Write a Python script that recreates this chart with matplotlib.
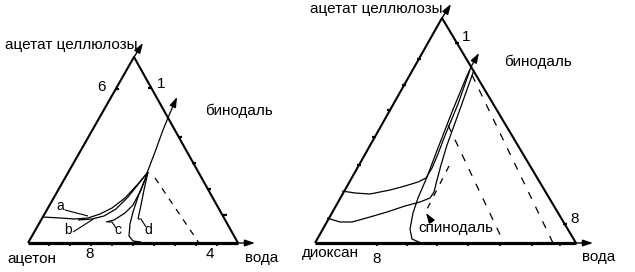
import numpy as np
import matplotlib
matplotlib.use("Agg")
import matplotlib.pyplot as plt

plt.rcParams['font.family'] = ['Liberation Sans', 'DejaVu Sans']

# --- left diagram (ацетат целлюлозы / ацетон / вода), pixel coordinates ---
tri_left = [(28, 243), (238, 243), (134, 57)]
ticks_left = [(115, 89, 1), (152, 88, -1), (182, 137, -1), (196, 163, -1),
              (211, 189, -1), (227, 215, -1)]
bottom_ticks_left = [49, 70, 91, 112, 133, 154, 175, 196, 217]
binodal_left = [(147, 173), (155, 152), (163, 130), (170, 113), (175, 103)]
curve_a = [(43, 217), (60, 218), (75, 219), (88, 218), (100, 214), (112, 208),
           (125, 198), (138, 184), (148, 172)]
curve_b = [(78, 220), (92, 219), (104, 216), (116, 209), (128, 197),
           (140, 182), (148, 172)]
curve_c = [(106, 222), (114, 220), (125, 213), (133, 205), (141, 190),
           (148, 172)]
curve_d1 = [(141, 242), (133, 241), (129, 236), (130, 224), (133, 212),
            (139, 194), (148, 172)]
curve_d2 = [(138, 219), (141, 205), (144, 190), (148, 172)]
dash_left = [(155, 178), (199, 243)]

# --- right diagram (ацетат целлюлозы / диоксан / вода) ---
tri_right = [(315, 243), (576, 243), (442, 18)]
ticks_right = [(417, 59, 1), (402, 85, 1), (387, 110, 1), (372, 137, 1),
               (357, 165, 1), (459, 43, -1), (567, 224, -1)]
bottom_ticks_right = [377, 407, 437, 468, 500, 532, 560]
binodal_right = [(421, 243), (412, 239), (410, 229), (413, 213), (418, 198),
                 (427, 177), (438, 148), (452, 112), (466, 78), (472, 65)]
upper_curve = [(342, 191), (355, 193), (370, 194), (390, 190), (405, 186),
               (418, 182), (426, 178), (432, 168), (438, 154), (444, 138),
               (458, 104), (470, 70)]
lower_curve = [(327, 218), (340, 222), (352, 222), (370, 217), (387, 212),
               (405, 206), (420, 202), (430, 198), (434, 192), (437, 180),
               (441, 165), (447, 145), (459, 112), (474, 70)]
spinodal = [(449, 166), (424, 215)]
dash_right1 = [(448, 125), (504, 243)]
dash_right2 = [(472, 75), (553, 243)]

fig = plt.figure(figsize=(6.35, 2.72), dpi=100)
ax = fig.add_axes([0, 0, 1, 1])
ax.set_xlim(0, 635)
ax.set_ylim(272, 0)
ax.axis('off')

k = 'black'


def poly(pts, **kw):
    pts = np.array(pts)
    ax.plot(pts[:, 0], pts[:, 1], color=k, solid_capstyle='butt', **kw)


def arrow(p0, p1, lw=1.0):
    ax.annotate('', xy=p1, xytext=p0,
                arrowprops=dict(arrowstyle='-|>,head_length=0.6,head_width=0.2',
                                color=k, lw=lw, shrinkA=0, shrinkB=0))


for tri, bticks, ticks in [(tri_left, bottom_ticks_left, ticks_left),
                           (tri_right, bottom_ticks_right, ticks_right)]:
    poly(tri[:2], lw=2.3)
    poly([tri[1], tri[2], tri[0]], lw=1.5)
    for x in bticks:
        poly([(x, tri[0][1]), (x, tri[0][1] + 3)], lw=1.2)
    for x, y, s in ticks:
        poly([(x, y), (x + 4 * s, y)], lw=1.6)
    # axis arrows
    arrow(tri[2], (tri[2][0] + 9, tri[2][1] - 14))
    arrow(tri[1], (tri[1][0] + 17, tri[1][1]))

# left curves
for c in [curve_a, curve_b, curve_c, curve_d1, curve_d2]:
    poly(c, lw=0.9)
poly(binodal_left[:-1], lw=0.9)
arrow(binodal_left[-2], (177, 97), lw=0.9)
poly(dash_left, lw=0.9, linestyle=(0, (5, 5)))

# leaders
poly([(65, 210), (88, 216)], lw=0.8)
poly([(73, 232), (95, 218)], lw=0.8)
poly([(108, 222), (112, 222), (116, 228)], lw=0.8)
poly([(138, 219), (141, 219), (146, 227)], lw=0.8)

# right curves
poly(binodal_right, lw=0.9)
arrow(binodal_right[-1], (479, 53), lw=0.9)
poly(upper_curve, lw=0.9)
poly(lower_curve, lw=0.9)
poly(spinodal, lw=0.9, linestyle=(0, (5, 6)))
poly(dash_right1, lw=0.9, linestyle=(0, (6, 7)))
poly(dash_right2, lw=0.9, linestyle=(0, (6, 7)))
arrow((432, 222), (426, 213), lw=0.9)

fs = 11
txt = dict(color=k, fontsize=fs, va='center')
# left texts
ax.text(5, 45, 'ацетат целлюлозы', ha='left', **txt)
ax.text(101, 87, '6', ha='center', **txt)
ax.text(161, 84, '1', ha='center', **txt)
ax.text(205, 111, 'бинодаль', ha='left', **txt)
ax.text(7, 259, 'ацетон', ha='left', **txt)
ax.text(90, 254, '8', ha='center', **txt)
ax.text(210, 254, '4', ha='center', **txt)
ax.text(245, 258, 'вода', ha='left', **txt)
ax.text(60, 206, 'a', ha='center', color=k, fontsize=10, va='center')
ax.text(68, 230, 'b', ha='center', color=k, fontsize=10, va='center')
ax.text(118, 230, 'c', ha='center', color=k, fontsize=10, va='center')
ax.text(148, 230, 'd', ha='center', color=k, fontsize=10, va='center')
# right texts
ax.text(310, 9, 'ацетат целлюлозы', ha='left', **txt)
ax.text(466, 37, '1', ha='center', **txt)
ax.text(504, 62, 'бинодаль', ha='left', **txt)
ax.text(575, 219, '8', ha='center', **txt)
ax.text(418, 228, 'спинодаль', ha='left', **txt)
ax.text(302, 253, 'диоксан', ha='left', **txt)
ax.text(377, 259, '8', ha='center', **txt)
ax.text(582, 257, 'вода', ha='left', **txt)

fig.savefig('out.png', dpi=100)
